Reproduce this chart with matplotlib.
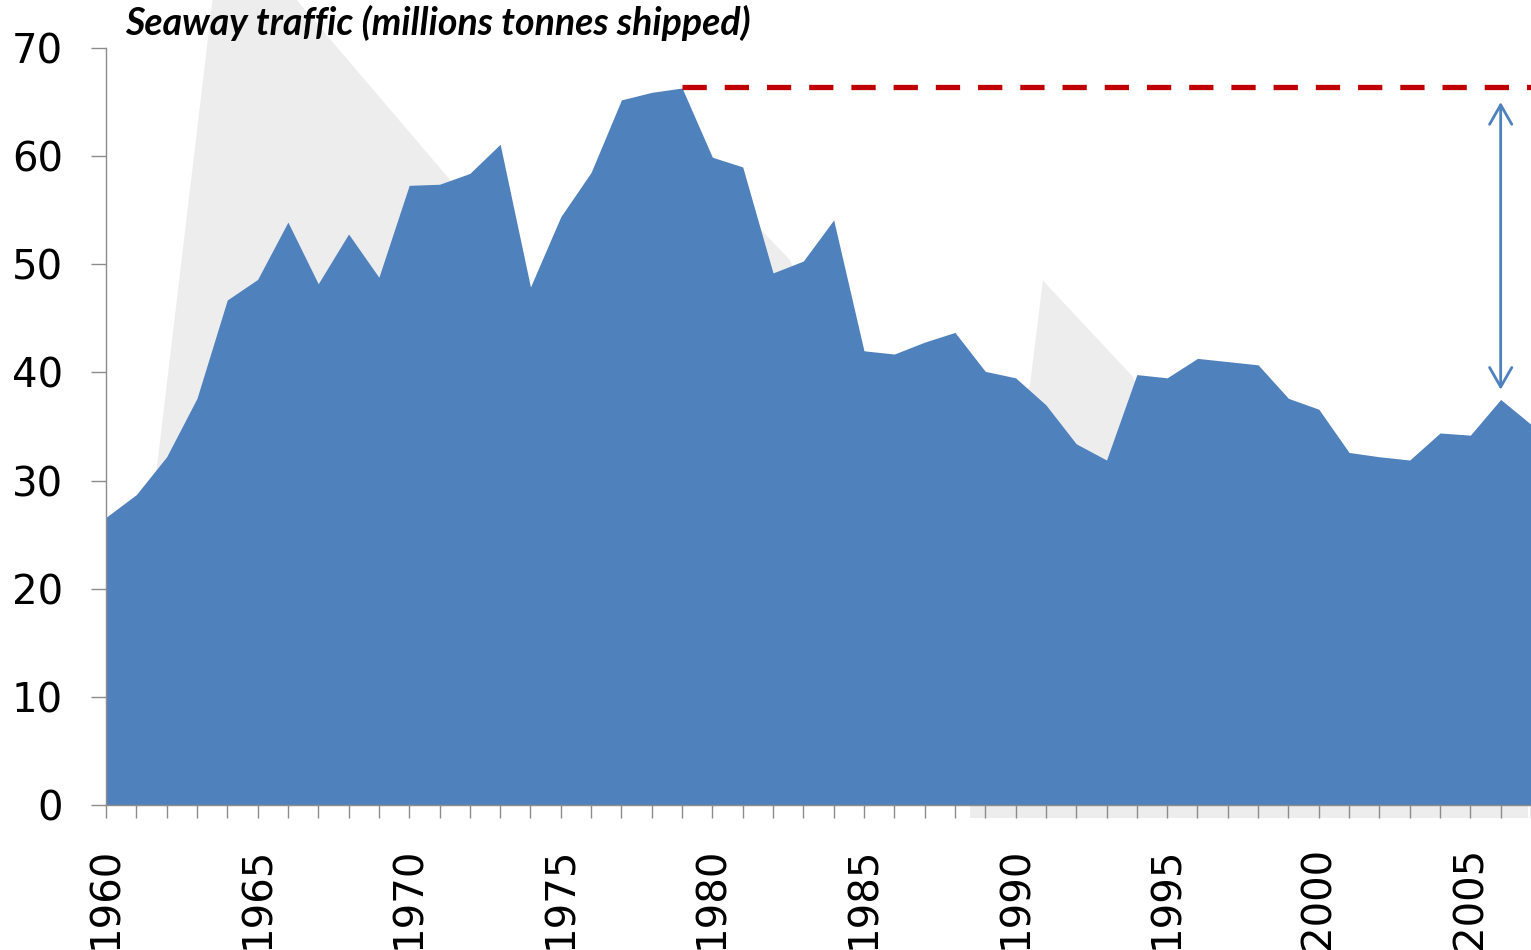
import matplotlib

matplotlib.use("Agg")
import matplotlib.pyplot as plt
import numpy as np
from matplotlib.patches import FancyArrowPatch, Polygon

# Seaway traffic, millions of tonnes shipped
years = np.arange(1960, 2008)
tonnes = [
    26.6, 28.7, 32.2, 37.6, 46.7, 48.6, 53.9, 48.2, 52.8, 48.8,
    57.3, 57.4, 58.4, 61.1, 47.9, 54.4, 58.5, 65.2, 65.9, 66.3,
    59.9, 59.0, 49.2, 50.3, 54.1, 42.0, 41.7, 42.8, 43.7, 40.1,
    39.5, 37.0, 33.4, 31.9, 39.8, 39.5, 41.3, 41.0, 40.7, 37.6,
    36.6, 32.6, 32.2, 31.9, 34.4, 34.2, 37.5, 35.2,
]

# faint grey shape sitting behind the series
ghost_years = [1961.5, 1963.75, 1964.6, 1971.35, 1973.3, 1980.5, 1981.67, 1982.56,
               1983.5, 1989.5, 1990.47, 1990.9, 1993.87, 1994.3, 1995.0, 2006.9,
               2006.9, 1988.5, 1988.5, 1961.5]
ghost_vals = [27.0, 80.0, 80.0, 57.8, 45.0, 56.0, 53.0, 50.4,
              44.0, 36.0, 38.7, 48.5, 39.6, 36.0, 30.0, 30.0,
              -1.2, -1.2, 0.0, 0.0]

peak_year = 1979
peak_val = 66.4
arrow_year = 2006
arrow_top = 65.0
arrow_bottom = 38.4

blue = "#4F81BD"
red = "#C00000"
grey = "#8C8C8C"

fig = plt.figure(figsize=(15.31, 9.5), dpi=100)
ax = fig.add_axes([106 / 1531, 145 / 950, 1425 / 1531, 757 / 950])

ax.add_patch(Polygon(np.column_stack([ghost_years, ghost_vals]), closed=True,
                     facecolor="#EDEDED", edgecolor="none", clip_on=False, zorder=0))
ax.fill_between(years, tonnes, 0, color=blue, linewidth=0, zorder=2)

ax.plot([peak_year, years[-1]], [peak_val, peak_val], color=red, linewidth=3.8,
        dashes=(4.6, 3.4), solid_capstyle="butt", zorder=3)
ax.add_patch(FancyArrowPatch((arrow_year, arrow_top), (arrow_year, arrow_bottom),
                             arrowstyle="<->,head_length=14,head_width=8",
                             mutation_scale=1, color=blue, linewidth=2.0,
                             shrinkA=0, shrinkB=0, zorder=4))

ax.set_xlim(1960, 2007)
ax.set_ylim(0, 70)
ax.set_yticks(range(0, 71, 10))
ax.set_xticks(range(1960, 2006, 5))
ax.set_xticks(years, minor=True)

for side in ["top", "right"]:
    ax.spines[side].set_visible(False)
for side in ["left", "bottom"]:
    ax.spines[side].set_color(grey)
    ax.spines[side].set_linewidth(1.0)
    ax.spines[side].set_zorder(5)

ax.tick_params(axis="y", direction="out", length=11, width=1, color=grey,
               labelsize=29, pad=20)
ax.tick_params(axis="x", which="both", direction="out", length=9, width=1,
               color=grey, labelsize=29, pad=21, labelrotation=90)
ax.set_facecolor("none")

fig.text(125 / 1531, 1 - 35 / 950, "Seaway traffic (millions tonnes shipped)",
         fontfamily="Lato", fontweight="bold", fontstyle="italic", fontsize=27,
         va="baseline", ha="left")

fig.savefig("out.png", dpi=100)
